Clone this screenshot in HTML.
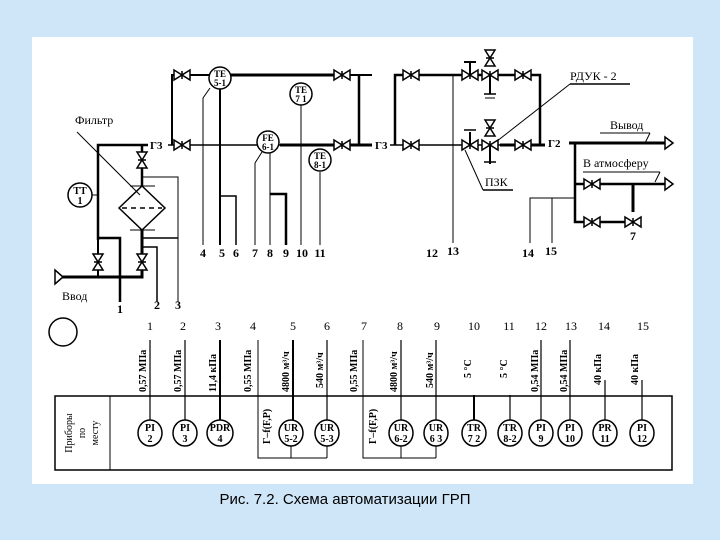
<!DOCTYPE html>
<html><head><meta charset="utf-8"><style>
body{margin:0;width:720px;height:540px;background:#cfe6f8;overflow:hidden;font-family:"Liberation Serif",serif}
svg{position:absolute;left:0;top:0}
</style></head><body>
<svg width="720" height="540" viewBox="0 0 720 540" font-family="Liberation Serif, serif">
<defs>
<g id="v"><polygon points="-8,-5 0,0 -8,5" fill="#fff" stroke="#000" stroke-width="1.5"/><polygon points="8,-5 0,0 8,5" fill="#fff" stroke="#000" stroke-width="1.5"/><line x1="0" y1="-4" x2="0" y2="4" stroke="#000" stroke-width="1.5"/></g>
<g id="vv"><polygon points="-5,-8 0,0 5,-8" fill="#fff" stroke="#000" stroke-width="1.5"/><polygon points="-5,8 0,0 5,8" fill="#fff" stroke="#000" stroke-width="1.5"/><line x1="-4" y1="0" x2="4" y2="0" stroke="#000" stroke-width="1.5"/></g>
</defs>
<rect x="32" y="37" width="661" height="447" fill="#fff"/>
<g stroke="#000" fill="none">
<!-- left filter section -->
<polyline points="98,240 98,145 148,145" stroke-width="2.5"/>
<line x1="98" y1="240" x2="98" y2="277" stroke-width="2"/>
<polyline points="62,277 142,277 142,230" stroke-width="3"/>
<polygon points="55,270 63,277 55,284" fill="#fff" stroke-width="1.5"/>
<line x1="142" y1="145" x2="142" y2="186" stroke-width="2.5"/>
<polygon points="142,186 165,208 142,230 119,208" fill="#fff" stroke-width="1.5"/>
<line x1="122" y1="208" x2="162" y2="208" stroke-dasharray="5,4" stroke-width="1.5"/>
<line x1="130" y1="186" x2="155" y2="186"/><line x1="130" y1="230" x2="155" y2="230"/>
<polyline points="98,238 120,238 120,302" stroke-width="2.5"/>
<polyline points="142,247 157,247 157,302" stroke-width="1.5"/>
<polyline points="142,177 178,177 178,302" stroke-width="1"/>
<line x1="142" y1="238" x2="178" y2="238" stroke-width="1.5"/>
<line x1="86" y1="195" x2="98" y2="195"/>
<line x1="77" y1="132" x2="140" y2="195"/>
<!-- upper bypass -->
<polyline points="172,145 172,75 372,75" stroke-width="2"/>
<polyline points="359,75 359,145" stroke-width="2.5"/>
<line x1="168" y1="145" x2="372" y2="145" stroke-width="1.5"/>
<line x1="280" y1="145" x2="372" y2="145" stroke-width="3"/>
<line x1="230" y1="75" x2="350" y2="75" stroke-width="3"/>
<!-- instrument lines -->
<polyline points="210,88 203,98 203,245"/>
<line x1="220" y1="89" x2="220" y2="245" stroke-width="2"/>
<polyline points="220,196 236,196 236,245" stroke-width="1.5"/>
<polyline points="262,152 255,163 255,245"/>
<line x1="270" y1="153" x2="270" y2="245"/>
<polyline points="270,194 286,194 286,245" stroke-width="2.5"/>
<line x1="301" y1="105" x2="301" y2="245"/>
<line x1="320" y1="172" x2="320" y2="245"/>
<!-- right section -->
<line x1="390" y1="145" x2="545" y2="145" stroke-width="1.5"/>
<line x1="500" y1="145" x2="545" y2="145" stroke-width="3"/>
<polyline points="395,145 395,75 540,75 540,145" stroke-width="2.5"/>
<line x1="453" y1="75" x2="453" y2="243"/>
<line x1="575" y1="143" x2="665" y2="143" stroke-width="3"/>
<polygon points="665,137 673,143 665,149" fill="#fff" stroke-width="1.5"/>
<line x1="569" y1="143" x2="582" y2="143" stroke-width="3"/>
<polyline points="575,143 575,222 625,222" stroke-width="2.5"/>
<line x1="575" y1="184" x2="665" y2="184" stroke-width="2.5"/>
<polygon points="665,178 673,184 665,190" fill="#fff" stroke-width="1.5"/>
<line x1="633" y1="184" x2="633" y2="212" stroke-width="3"/>
<polyline points="530,243 530,198 575,198"/>
<line x1="552" y1="198" x2="552" y2="243"/>
<polyline points="570,84 630,84" stroke-width="1.5"/><line x1="570" y1="84" x2="492" y2="145"/>
<line x1="483" y1="190" x2="513" y2="190" stroke-width="1.5"/><line x1="483" y1="190" x2="465" y2="150"/>
<line x1="600" y1="133" x2="650" y2="133"/><line x1="650" y1="133" x2="645" y2="143"/>
<line x1="583" y1="172" x2="660" y2="172"/><line x1="660" y1="172" x2="655" y2="182"/>
<!-- regulators -->
<line x1="470" y1="75" x2="470" y2="62" stroke-width="2"/><line x1="464" y1="62" x2="476" y2="62" stroke-width="2"/>
<line x1="490" y1="75" x2="490" y2="94" stroke-width="2"/><line x1="484" y1="94" x2="496" y2="94" stroke-width="1.5"/><line x1="485" y1="98" x2="495" y2="98"/>
<line x1="470" y1="145" x2="470" y2="132" stroke-width="2"/><line x1="464" y1="130" x2="476" y2="130" stroke-width="1.5"/>
<line x1="490" y1="145" x2="490" y2="164" stroke-width="2"/><line x1="484" y1="162" x2="496" y2="162" stroke-width="1.5"/>
<!-- bottom table -->
<rect x="55" y="396" width="617" height="74" stroke-width="1.5"/>
<line x1="110" y1="396" x2="110" y2="470"/>
<polyline points="258,396 258,458 327,458"/><line x1="291" y1="446" x2="291" y2="458"/><line x1="327" y1="446" x2="327" y2="458"/>
<polyline points="363,396 363,458 436,458"/><line x1="401" y1="446" x2="401" y2="458"/><line x1="436" y1="446" x2="436" y2="458"/>
<line x1="258" y1="340" x2="258" y2="396"/><line x1="363" y1="340" x2="363" y2="396"/>
<g stroke-width="1.2">
<line x1="150" y1="340" x2="150" y2="420"/><line x1="185" y1="340" x2="185" y2="420"/><line x1="220" y1="340" x2="220" y2="420" stroke-width="2"/>
<line x1="293" y1="340" x2="293" y2="420" stroke-width="2"/><line x1="327" y1="340" x2="327" y2="420"/>
<line x1="401" y1="340" x2="401" y2="420"/><line x1="436" y1="340" x2="436" y2="420"/>
<line x1="474" y1="395" x2="474" y2="420" stroke-width="2"/><line x1="510" y1="395" x2="510" y2="420"/>
<line x1="541" y1="340" x2="541" y2="420"/><line x1="570" y1="340" x2="570" y2="420"/>
<line x1="605" y1="380" x2="605" y2="420"/><line x1="642" y1="380" x2="642" y2="420"/>
</g>
<ellipse cx="63" cy="332" rx="14" ry="14" stroke-width="1.5"/>
</g>
<!-- valves -->
<use href="#v" x="182" y="75"/><use href="#v" x="342" y="75"/><use href="#v" x="182" y="145"/><use href="#v" x="342" y="145"/>
<use href="#vv" x="142" y="160"/><use href="#vv" x="98" y="262"/><use href="#vv" x="142" y="262"/>
<use href="#v" x="411" y="75"/><use href="#v" x="523" y="75"/><use href="#v" x="411" y="145"/><use href="#v" x="523" y="145"/>
<use href="#v" x="470" y="75"/><use href="#v" x="490" y="75"/><use href="#vv" x="490" y="58"/>
<use href="#v" x="470" y="145"/><use href="#v" x="490" y="145"/><use href="#vv" x="490" y="128"/>
<use href="#v" x="592" y="184"/><use href="#v" x="592" y="222"/><use href="#v" x="633" y="222"/>
<!-- circles top -->
<g fill="#fff" stroke="#000" stroke-width="1.5">
<circle cx="220" cy="78" r="11"/><circle cx="301" cy="94" r="11"/><circle cx="268" cy="142" r="11"/><circle cx="320" cy="160" r="11"/><circle cx="80" cy="195" r="12"/>
<ellipse cx="150" cy="433" rx="12" ry="13"/><ellipse cx="185" cy="433" rx="12" ry="13"/><ellipse cx="220" cy="433" rx="13" ry="13"/>
<ellipse cx="291" cy="433" rx="12" ry="13"/><ellipse cx="327" cy="433" rx="12" ry="13"/><ellipse cx="401" cy="433" rx="12" ry="13"/><ellipse cx="436" cy="433" rx="12" ry="13"/>
<ellipse cx="474" cy="433" rx="12" ry="13"/><ellipse cx="510" cy="433" rx="12" ry="13"/><ellipse cx="541" cy="433" rx="12" ry="13"/><ellipse cx="570" cy="433" rx="12" ry="13"/><ellipse cx="605" cy="433" rx="12" ry="13"/><ellipse cx="642" cy="433" rx="12" ry="13"/>
</g>
<g font-size="9" font-weight="bold" text-anchor="middle">
<text x="220" y="77">TE</text><text x="220" y="86">5-1</text>
<text x="301" y="93">TE</text><text x="301" y="102">7 1</text>
<text x="268" y="141">FE</text><text x="268" y="150">6-1</text>
<text x="320" y="159">TE</text><text x="320" y="168">8-1</text>
<text x="80" y="194" font-size="10">TT</text><text x="80" y="204" font-size="10">1</text>
</g>
<g font-size="11" font-weight="bold">
<text x="150" y="149">Г3</text><text x="375" y="149">Г3</text><text x="548" y="147">Г2</text>
</g>
<g font-size="12">
<text x="75" y="124">Фильтр</text><text x="62" y="300">Ввод</text>
<text x="570" y="80">РДУК - 2</text><text x="485" y="186">ПЗК</text>
<text x="610" y="129">Вывод</text><text x="583" y="167">В атмосферу</text>
</g>
<g font-size="12" font-weight="bold" text-anchor="middle">
<text x="120" y="313">1</text><text x="157" y="309">2</text><text x="178" y="309">3</text>
<text x="203" y="257">4</text><text x="222" y="257">5</text><text x="236" y="257">6</text><text x="255" y="257">7</text><text x="270" y="257">8</text><text x="286" y="257">9</text><text x="302" y="257">10</text><text x="320" y="257">11</text>
<text x="432" y="257">12</text><text x="453" y="255">13</text><text x="528" y="257">14</text><text x="551" y="255">15</text>
<text x="633" y="240">7</text>
</g>
<g font-size="12" text-anchor="middle">
<text x="150" y="330">1</text><text x="183" y="330">2</text><text x="218" y="330">3</text><text x="253" y="330">4</text><text x="293" y="330">5</text><text x="327" y="330">6</text><text x="364" y="330">7</text><text x="400" y="330">8</text><text x="437" y="330">9</text><text x="474" y="330">10</text><text x="509" y="330">11</text><text x="541" y="330">12</text><text x="571" y="330">13</text><text x="604" y="330">14</text><text x="643" y="330">15</text>
</g>
<g font-size="10" font-weight="bold" text-anchor="middle">
<text x="150" y="431">PI</text><text x="150" y="442">2</text>
<text x="185" y="431">PI</text><text x="185" y="442">3</text>
<text x="220" y="431">PDR</text><text x="220" y="442">4</text>
<text x="291" y="431">UR</text><text x="291" y="442">5-2</text>
<text x="327" y="431">UR</text><text x="327" y="442">5-3</text>
<text x="401" y="431">UR</text><text x="401" y="442">6-2</text>
<text x="436" y="431">UR</text><text x="436" y="442">6 3</text>
<text x="474" y="431">TR</text><text x="474" y="442">7 2</text>
<text x="510" y="431">TR</text><text x="510" y="442">8-2</text>
<text x="541" y="431">PI</text><text x="541" y="442">9</text>
<text x="570" y="431">PI</text><text x="570" y="442">10</text>
<text x="605" y="431">PR</text><text x="605" y="442">11</text>
<text x="642" y="431">PI</text><text x="642" y="442">12</text>
</g>
<g font-size="10" font-weight="bold">
<text transform="translate(146,392) rotate(-90)">0,57 МПа</text>
<text transform="translate(181,392) rotate(-90)">0,57 МПа</text>
<text transform="translate(216,392) rotate(-90)">11,4 кПа</text>
<text transform="translate(251,392) rotate(-90)">0,55 МПа</text>
<text transform="translate(289,392) rotate(-90)">4800 м³/ч</text>
<text transform="translate(323,388) rotate(-90)">540 м³/ч</text>
<text transform="translate(357,392) rotate(-90)">0,55 МПа</text>
<text transform="translate(397,392) rotate(-90)">4800 м³/ч</text>
<text transform="translate(433,388) rotate(-90)">540 м³/ч</text>
<text transform="translate(471,378) rotate(-90)">5 °C</text>
<text transform="translate(507,378) rotate(-90)">5 °C</text>
<text transform="translate(538,392) rotate(-90)">0,54 МПа</text>
<text transform="translate(567,392) rotate(-90)">0,54 МПа</text>
<text transform="translate(601,385) rotate(-90)">40 кПа</text>
<text transform="translate(638,385) rotate(-90)">40 кПа</text>
<text transform="translate(270,444) rotate(-90)">Г–f(F,P)</text>
<text transform="translate(376,444) rotate(-90)">Г–f(F,P)</text>
</g>
<g font-size="10" text-anchor="middle">
<text transform="translate(72,433) rotate(-90)">Приборы</text>
<text transform="translate(85,433) rotate(-90)">по</text>
<text transform="translate(98,433) rotate(-90)">месту</text>
</g>
<text x="345" y="504" font-family="Liberation Sans, sans-serif" font-size="15" text-anchor="middle">Рис. 7.2. Схема автоматизации ГРП</text>
</svg>
</body></html>
